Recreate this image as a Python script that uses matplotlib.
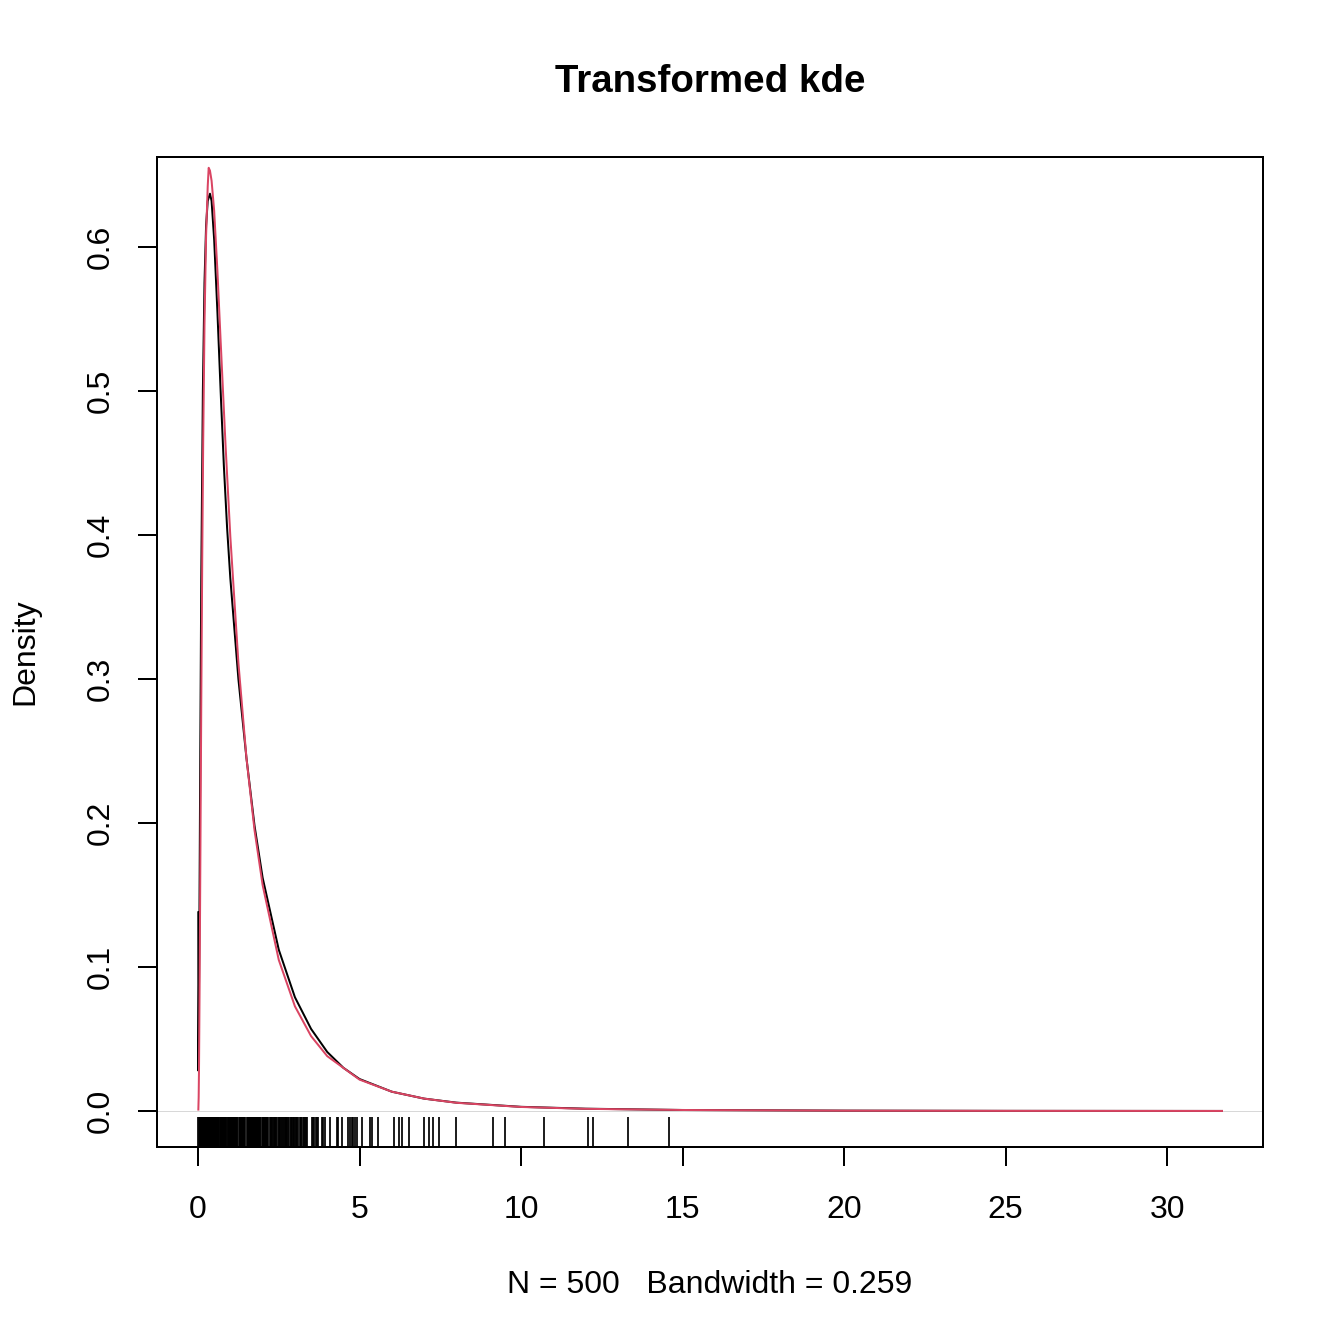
import matplotlib
matplotlib.use("Agg")
import matplotlib.pyplot as plt
import matplotlib.transforms as mtransforms

plt.rcParams['font.family'] = ['Liberation Sans', 'DejaVu Sans']

# kde on the transformed scale (black)
kde_x = [0.008, 0.012, 0.04, 0.07, 0.10, 0.15, 0.20, 0.25, 0.30, 0.37, 0.42,
         0.50, 0.60, 0.70, 0.80, 0.90, 1.00, 1.25, 1.50, 1.75, 2.00, 2.50,
         3.00, 3.50, 4.00, 4.50, 5.00, 6.0, 7.0, 8.0, 10.0, 12.0, 15.0,
         20.0, 25.0, 31.7]
kde_y = [0.138, 0.028, 0.120, 0.250, 0.370, 0.500, 0.575, 0.615, 0.632, 0.637,
         0.632, 0.605, 0.555, 0.500, 0.448, 0.405, 0.370, 0.300, 0.245, 0.198,
         0.162, 0.112, 0.079, 0.057, 0.041, 0.030, 0.0222, 0.0134, 0.0086,
         0.0058, 0.0029, 0.0016, 0.0007, 0.00025, 0.0001, 0.00003]

# true density (red)
true_x = [0.01, 0.02, 0.03, 0.05, 0.07, 0.10, 0.13, 0.16, 0.20, 0.25, 0.30,
          0.33, 0.37, 0.42, 0.50, 0.60, 0.70, 0.85, 1.00, 1.25, 1.50, 1.75,
          2.00, 2.50, 3.00, 3.50, 4.00, 5.00, 6.0, 7.0, 8.0, 10.0, 12.0,
          15.0, 20.0, 25.0, 31.7]
true_y = [0.001, 0.0095, 0.0284, 0.0898, 0.166, 0.282, 0.383, 0.465, 0.546,
          0.608, 0.642, 0.655, 0.653, 0.646, 0.6250, 0.5836, 0.5348, 0.4632,
          0.3989, 0.3113, 0.245, 0.1949, 0.1569, 0.1049, 0.0727, 0.052, 0.0381,
          0.0218, 0.0134, 0.0086, 0.0057, 0.0028, 0.0015, 0.0007, 0.00023,
          0.00009, 0.00003]

# observations for the rug
rug_x = [0.01, 0.03, 0.05, 0.06, 0.08, 0.10, 0.11, 0.13, 0.15, 0.17, 0.18,
         0.20, 0.22, 0.23, 0.25, 0.27, 0.29, 0.30, 0.32, 0.34, 0.35, 0.37,
         0.39, 0.40, 0.42, 0.44, 0.45, 0.47, 0.49, 0.50, 0.53, 0.55, 0.57,
         0.58, 0.60, 0.62, 0.63, 0.66, 0.68, 0.70, 0.71, 0.74, 0.76, 0.78,
         0.79, 0.82, 0.84, 0.85, 0.88, 0.90, 0.93, 0.95, 0.96, 0.99, 1.01,
         1.02, 1.05, 1.07, 1.08, 1.11, 1.13, 1.14, 1.17, 1.19, 1.20, 1.22,
         1.28, 1.30, 1.31, 1.34, 1.36, 1.37, 1.40, 1.42, 1.43, 1.46, 1.52,
         1.54, 1.55, 1.58, 1.60, 1.61, 1.64, 1.66, 1.67, 1.70, 1.72, 1.73,
         1.76, 1.78, 1.79, 1.82, 1.84, 1.85, 1.88, 1.90, 1.91, 1.93, 1.98,
         2.00, 2.01, 2.04, 2.06, 2.07, 2.10, 2.12, 2.13, 2.16, 2.23, 2.25,
         2.27, 2.30, 2.32, 2.34, 2.37, 2.39, 2.40, 2.43, 2.50, 2.52, 2.54,
         2.58, 2.60, 2.62, 2.66, 2.69, 2.71, 2.73, 2.77, 2.80, 2.82, 2.87,
         2.89, 2.91, 2.94, 2.96, 2.98, 3.02, 3.04, 3.06, 3.10, 3.16, 3.18,
         3.20, 3.25, 3.27, 3.30, 3.34, 3.37, 3.53, 3.56, 3.58, 3.64, 3.68,
         3.72, 3.84, 3.87, 3.93, 4.09, 4.30, 4.33, 4.46, 4.64, 4.69, 4.77,
         4.80, 4.86, 4.92, 5.08, 5.33, 5.39, 5.57, 6.08, 6.23, 6.32, 6.54,
         7.01, 7.14, 7.27, 7.45, 7.98, 9.12, 9.50, 10.71, 12.06, 12.22,
         13.30, 14.57]

x_ticks = [0, 5, 10, 15, 20, 25, 30]
y_ticks = [0.0, 0.1, 0.2, 0.3, 0.4, 0.5, 0.6]

fig = plt.figure(figsize=(13.44, 13.44), dpi=100)
ax = fig.add_axes([157 / 1344, 1 - 1147 / 1344, (1263 - 157) / 1344, (1147 - 157) / 1344])

lw = 1.44
ax.axhline(0, color='#C8C8C8', lw=0.5, zorder=1)
ax.plot(kde_x, kde_y, color='black', lw=lw, zorder=3)
ax.plot(true_x, true_y, color='#DA4563', lw=lw, zorder=4)

trans = mtransforms.blended_transform_factory(ax.transData, ax.transAxes)
ax.vlines(rug_x, 0, 0.03, transform=trans, color='black', lw=1.25, zorder=2)

ax.set_xlim(-1.27, 32.97)
ax.set_ylim(-0.025, 0.6625)
ax.set_xticks(x_ticks)
ax.set_xticklabels([str(t) for t in x_ticks])
ax.set_yticks(y_ticks)
ax.set_yticklabels(['%.1f' % t for t in y_ticks], rotation=90, va='center')

ax.tick_params(axis='both', length=13.7, width=lw, labelsize=23, direction='out')
ax.tick_params(axis='x', pad=21)
ax.tick_params(axis='y', pad=16)
for s in ax.spines.values():
    s.set_linewidth(lw)

fig.text(710 / 1344, 1 - 82 / 1344, 'Transformed kde', ha='center', va='center',
         fontsize=27.7, fontweight='bold')
fig.text(710 / 1344, 1 - 1285 / 1344, 'N = 500   Bandwidth = 0.259', ha='center',
         va='center', fontsize=23)
fig.text(25 / 1344, 1 - 652 / 1344, 'Density', ha='center', va='center',
         fontsize=23, rotation=90)

fig.savefig('out.png', dpi=100)
